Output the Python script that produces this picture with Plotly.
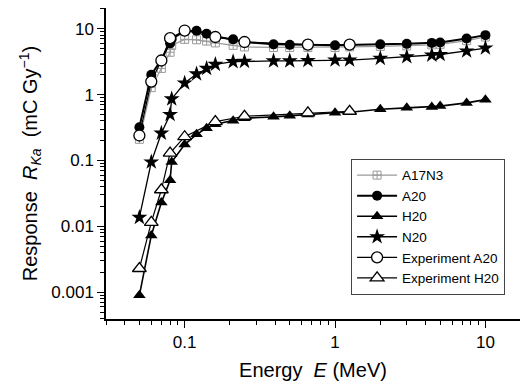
import plotly.graph_objects as go

# Energies (MeV)
E_SIM = [0.05, 0.06, 0.07, 0.08, 0.082, 0.1, 0.12, 0.14, 0.16, 0.21, 0.25, 0.39, 0.5,
         0.66, 1.0, 1.25, 2.0, 3.0, 4.4, 5.0, 7.5, 10.0]
E_EXP = [0.05, 0.06, 0.07, 0.08, 0.1, 0.16, 0.25, 0.66, 1.25]

# Responses (mC/Gy)
A17N3 = [0.21, 1.28, 2.5, 4.4, 5.6, 6.9, 6.8, 6.5, 6.1, 5.6, 5.3, 5.2, 5.2,
         5.2, 5.2, 5.3, 5.4, 5.5, 5.7, 5.8, 6.6, 7.5]
A20 = [0.32, 2.0, 3.4, 6.0, 7.0, 9.2, 9.3, 8.4, 7.6, 6.9, 6.3, 5.8, 5.7,
       5.7, 5.6, 5.7, 5.8, 5.9, 6.1, 6.2, 7.1, 8.0]
H20 = [0.0009, 0.0073, 0.023, 0.05, 0.095, 0.175, 0.25, 0.31, 0.355, 0.40, 0.44, 0.46, 0.48,
       0.50, 0.53, 0.54, 0.60, 0.63, 0.65, 0.67, 0.75, 0.84]
N20 = [0.0137, 0.095, 0.26, 0.5, 0.86, 1.5, 2.06, 2.5, 2.88, 3.16, 3.2, 3.25, 3.25,
       3.3, 3.35, 3.35, 3.55, 3.75, 3.98, 4.07, 4.6, 5.1]
EXP_A20 = [0.24, 1.58, 3.3, 7.2, 9.4, 7.5, 6.3, 5.75, 5.75]
EXP_H20 = [0.0023, 0.0115, 0.036, 0.13, 0.23, 0.39, 0.47, 0.53, 0.56]

X_TICKS = [0.1, 1, 10]
X_TICKTEXT = ["0.1", "1", "10"]
Y_TICKS = [0.001, 0.01, 0.1, 1, 10]
Y_TICKTEXT = ["0.001", "0.01", "0.1", "1", "10"]

FONT = "Liberation Sans, Arial, sans-serif"

fig = go.Figure()
fig.add_trace(go.Scatter(x=E_SIM, y=A17N3, name="A17N3", mode="lines+markers",
                         line=dict(color="#9a9a9a", width=1.2),
                         marker=dict(symbol="square-cross-open", size=8, color="#9a9a9a",
                                     line=dict(width=1))))
fig.add_trace(go.Scatter(x=E_SIM, y=A20, name="A20", mode="lines+markers",
                         line=dict(color="black", width=2),
                         marker=dict(symbol="circle", size=10, color="black")))
fig.add_trace(go.Scatter(x=E_SIM, y=H20, name="H20", mode="lines+markers",
                         line=dict(color="black", width=1.6),
                         marker=dict(symbol="triangle-up", size=11, color="black")))
fig.add_trace(go.Scatter(x=E_SIM, y=N20, name="N20", mode="lines+markers",
                         line=dict(color="black", width=1.3),
                         marker=dict(symbol="star", size=12, color="black")))
fig.add_trace(go.Scatter(x=E_EXP, y=EXP_A20, name="Experiment A20", mode="lines+markers",
                         line=dict(color="black", width=1.2),
                         marker=dict(symbol="circle", size=11, color="white",
                                     line=dict(color="black", width=1.3))))
fig.add_trace(go.Scatter(x=E_EXP, y=EXP_H20, name="Experiment H20", mode="lines+markers",
                         line=dict(color="black", width=1.2),
                         marker=dict(symbol="triangle-up", size=12, color="white",
                                     line=dict(color="black", width=1.3))))

x_minor = [m * 10 ** k for k in (-2, -1, 0, 1) for m in range(2, 10)]
y_minor = [m * 10 ** k for k in (-4, -3, -2, -1, 0, 1) for m in range(2, 10)]

fig.update_layout(
    width=526, height=384,
    margin=dict(l=106, r=6, t=8, b=62),
    paper_bgcolor="white", plot_bgcolor="white",
    font=dict(family=FONT, size=17, color="black"),
    showlegend=True,
    legend=dict(x=0.592, y=0.515, xanchor="left", yanchor="top",
                bordercolor="#444", borderwidth=1, bgcolor="white",
                font=dict(size=13.5), tracegroupgap=0, itemwidth=40),
    xaxis=dict(type="log", range=[-1.523, 1.23],
               tickmode="array", tickvals=X_TICKS, ticktext=X_TICKTEXT,
               ticks="outside", ticklen=7, tickwidth=1.2, tickcolor="black",
               showline=True, linecolor="black", linewidth=1.5,
               showgrid=False, zeroline=False,
               minor=dict(tickvals=x_minor, ticks="outside", ticklen=4,
                          tickcolor="black", showgrid=False),
               title=dict(text="Energy\u00a0 <i>E</i> (MeV)", standoff=12)),
    yaxis=dict(type="log", range=[-3.405, 1.315],
               tickmode="array", tickvals=Y_TICKS, ticktext=Y_TICKTEXT,
               ticks="outside", ticklen=7, tickwidth=1.2, tickcolor="black",
               showline=True, linecolor="black", linewidth=1.5,
               showgrid=False, zeroline=False,
               minor=dict(tickvals=y_minor, ticks="outside", ticklen=4,
                          tickcolor="black", showgrid=False),
               title=dict(text="Response\u00a0 <i>R</i><sub><i>Ka</i></sub>\u00a0 (mC Gy<sup>\u22121</sup>)",
                          standoff=8)),
)

fig.write_html("out.html")
